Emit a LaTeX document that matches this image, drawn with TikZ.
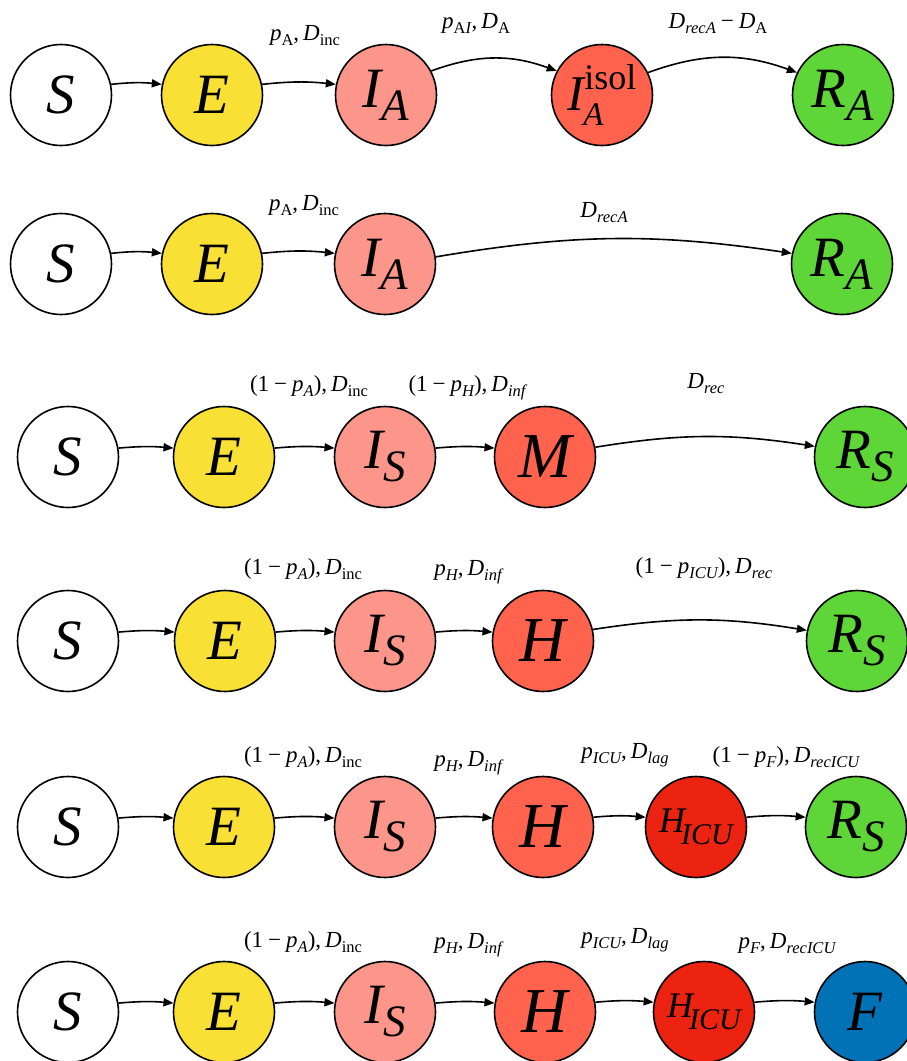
\documentclass[tikz,border=0pt]{standalone}
\usepackage{fontspec}
\setmainfont{Liberation Serif}
\usetikzlibrary{arrows.meta}

\definecolor{cE}{RGB}{248,224,52}
\definecolor{cI}{RGB}{253,150,138}
\definecolor{cM}{RGB}{255,99,77}
\definecolor{cICU}{RGB}{236,35,16}
\definecolor{cR}{RGB}{95,214,56}
\definecolor{cF}{RGB}{0,114,181}

\newcommand\fs[1]{\fontsize{#1}{#1}\selectfont}
\newcommand\nv[1]{{\fs{57}\itshape #1}}
\newcommand\nvbig[1]{{\fs{64}\itshape #1}}
\newcommand\nvs[2]{{\fs{57}\itshape #1}\raisebox{-13pt}{\fs{45}\itshape #2}}
\newcommand\hicu{{\fs{36}\itshape H}\hspace{-4pt}\raisebox{-12pt}{\fs{30}\itshape ICU}}
\newcommand\iso{{\fs{50}\itshape I}\rlap{\hspace{-1pt}\raisebox{-15pt}{\fs{33}\itshape A}}\raisebox{21pt}{\fs{36}isol}}
\newcommand\su[1]{\raisebox{-5pt}{\fs{16.5}#1}}
\newcommand\si[1]{\raisebox{-5pt}{\fs{16.5}\itshape #1}}
\newcommand\ip{\textit{p}}
\newcommand\iD{\textit{D}}
\newcommand\om{\hspace{5pt}−\hspace{5pt}}
\newcommand\cm{,\hspace{4pt}}

\tikzset{
  circ/.style={circle, draw, line width=1.6pt, minimum size=101pt, inner sep=0pt},
  lab/.style={anchor=base, inner sep=0pt, font=\fs{23}},
  arr/.style={line width=1.6pt, -{Triangle[length=10pt,width=8pt]}}
}

\begin{document}
\begin{tikzpicture}[x=1pt,y=-1pt]
\useasboundingbox (0,0) rectangle (907,1061);

% ---------- Row 1 ----------
\node[circ, fill=white] (r1S) at (61,95) {\nv{S}};
\node[circ, fill=cE] (r1E) at (212,95) {\nv{E}};
\node[circ, fill=cI] (r1I) at (386,95) {\nvs{I}{A}};
\node[circ, fill=cM] (r1Iso) at (602,95) {\iso};
\node[circ, fill=cR] (r1R) at (843,95) {\nvs{R}{A}};
\draw[arr] (r1S.12) to[bend left=6] (r1E.168);
\draw[arr] (r1E.12) to[bend left=6] (r1I.168);
\draw[arr] (r1I.28) to[bend left=20] (r1Iso.152);
\draw[arr] (r1Iso.26) to[bend left=20] (r1R.154);
\node[lab] (l11) at (305,40) {\ip\su{A}\cm\iD\su{inc}};
\node[lab] (l12) at (476,28) {\ip\raisebox{-5pt}{\fs{16.5}A\textit{I}}\cm\iD\su{A}};
\node[lab] (l13) at (718,28) {\iD\si{recA}\om\iD\su{A}};

% ---------- Row 2 ----------
\node[circ, fill=white] (r2S) at (61,264) {\nv{S}};
\node[circ, fill=cE] (r2E) at (212,264) {\nv{E}};
\node[circ, fill=cI] (r2I) at (385,264) {\nvs{I}{A}};
\node[circ, fill=cR] (r2R) at (842,264) {\nvs{R}{A}};
\draw[arr] (r2S.12) to[bend left=6] (r2E.168);
\draw[arr] (r2E.12) to[bend left=6] (r2I.168);
\draw[arr] (r2I.8) to[bend left=9] (r2R.168);
\node[lab] (l21) at (304,210) {\ip\su{A}\cm\iD\su{inc}};
\node[lab] (l22) at (604,217) {\iD\si{recA}};

% ---------- Row 3 ----------
\node[circ, fill=white] (r3S) at (68,457) {\nv{S}};
\node[circ, fill=cE] (r3E) at (224,457) {\nv{E}};
\node[circ, fill=cI] (r3I) at (385,457) {\nvs{I}{S}};
\node[circ, fill=cM] (r3M) at (545,457) {\nvbig{M}};
\node[circ, fill=cR] (r3R) at (865,457) {\nvs{R}{S}};
\draw[arr] (r3S.10) to[bend left=5] (r3E.170);
\draw[arr] (r3E.10) to[bend left=5] (r3I.170);
\draw[arr] (r3I.10) to[bend left=5] (r3M.170);
\draw[arr] (r3M.11) to[bend left=9] (r3R.168);
\node[lab] (l31) at (309,391) {(1\om\ip\si{A})\cm\iD\su{inc}};
\node[lab] (l32) at (467,391) {(1\om\ip\si{H})\cm\iD\si{inf}};
\node[lab] (l33) at (706,388) {\iD\si{rec}};

% ---------- Row 4 ----------
\node[circ, fill=white] (r4S) at (68,641) {\nv{S}};
\node[circ, fill=cE] (r4E) at (225,641) {\nv{E}};
\node[circ, fill=cI] (r4I) at (385,641) {\nvs{I}{S}};
\node[circ, fill=cM] (r4H) at (543,641) {\nvbig{H}};
\node[circ, fill=cR] (r4R) at (857,641) {\nvs{R}{S}};
\draw[arr] (r4S.10) to[bend left=5] (r4E.170);
\draw[arr] (r4E.10) to[bend left=5] (r4I.170);
\draw[arr] (r4I.10) to[bend left=5] (r4H.170);
\draw[arr] (r4H.13) to[bend left=9] (r4R.168);
\node[lab] (l41) at (303,574) {(1\om\ip\si{A})\cm\iD\su{inc}};
\node[lab] (l42) at (468,575) {\ip\si{H}\cm\iD\si{inf}};
\node[lab] (l43) at (704,573) {(1\om\ip\si{ICU})\cm\iD\si{rec}};

% ---------- Row 5 ----------
\node[circ, fill=white] (r5S) at (68,827) {\nv{S}};
\node[circ, fill=cE] (r5E) at (224,827) {\nv{E}};
\node[circ, fill=cI] (r5I) at (385,827) {\nvs{I}{S}};
\node[circ, fill=cM] (r5H) at (543,827) {\nvbig{H}};
\node[circ, fill=cICU] (r5C) at (696,827) {\hicu};
\node[circ, fill=cR] (r5R) at (856,827) {\nvs{R}{S}};
\draw[arr] (r5S.10) to[bend left=5] (r5E.170);
\draw[arr] (r5E.10) to[bend left=5] (r5I.170);
\draw[arr] (r5I.10) to[bend left=5] (r5H.170);
\draw[arr] (r5H.11) to[bend left=5] (r5C.169);
\draw[arr] (r5C.11) to[bend left=5] (r5R.169);
\node[lab] (l51) at (303,762) {(1\om\ip\si{A})\cm\iD\su{inc}};
\node[lab] (l52) at (468,766) {\ip\si{H}\cm\iD\si{inf}};
\node[lab] (l53) at (625,758) {\ip\si{ICU}\cm\iD\si{lag}};
\node[lab] (l54) at (786,762) {(1\om\ip\si{F})\cm\iD\si{recICU}};

% ---------- Row 6 ----------
\node[circ, fill=white] (r6S) at (68,1012) {\nv{S}};
\node[circ, fill=cE] (r6E) at (224,1012) {\nv{E}};
\node[circ, fill=cI] (r6I) at (385,1012) {\nvs{I}{S}};
\node[circ, fill=cM] (r6H) at (545,1012) {\nvbig{H}};
\node[circ, fill=cICU] (r6C) at (704,1012) {\hicu};
\node[circ, fill=cF] (r6F) at (865,1012) {\nv{F}};
\draw[arr] (r6S.10) to[bend left=5] (r6E.170);
\draw[arr] (r6E.10) to[bend left=5] (r6I.170);
\draw[arr] (r6I.10) to[bend left=5] (r6H.170);
\draw[arr] (r6H.11) to[bend left=5] (r6C.169);
\draw[arr] (r6C.11) to[bend left=5] (r6F.169);
\node[lab] (l61) at (303,947) {(1\om\ip\si{A})\cm\iD\su{inc}};
\node[lab] (l62) at (468,948) {\ip\si{H}\cm\iD\si{inf}};
\node[lab] (l63) at (625,943) {\ip\si{ICU}\cm\iD\si{lag}};
\node[lab] (l64) at (787,948) {\ip\si{F}\cm\iD\si{recICU}};
\end{tikzpicture}
\end{document}
